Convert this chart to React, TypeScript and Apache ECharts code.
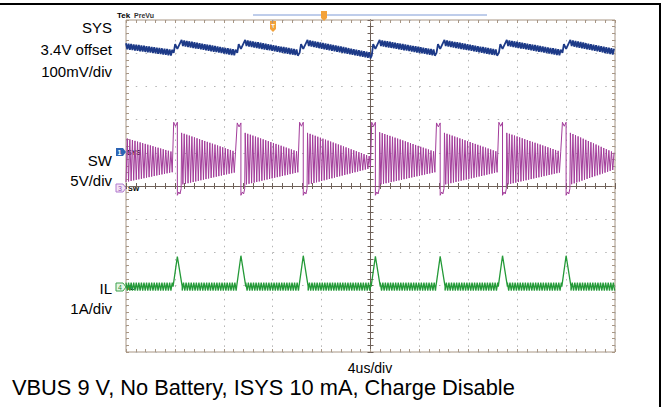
import React, { useEffect, useRef } from "react";
import * as echarts from "echarts";

// ---------- data ----------
// time base: 4 us/div, 10 divisions
const TIME_MIN_US = 0;
const TIME_MAX_US = 40;
const TIME_DIV_US = 4;
// high-side switching events (start of the SW high pulse), us
const EVENT_US = [3.9, 9.1, 14.2, 20.1, 25.4, 30.5, 35.7];
// period of the ringing / ripple after each pulse, us
const RING_PERIOD_US = 0.21;

// SW (5 V/div, reference at centre line)
const SW_PULSE_HIGH_V = [9.6, 9.5, 9.6, 9.6, 9.5, 9.6, 9.6];
const SW_PULSE_WIDTH_US = 0.3;
const SW_RING_DELAY_US = 0.65;
const SW_UNDERSHOOT_V = [-1.4, -0.9, -1.2, -0.4];
// ringing envelope per burst (burst 0 is the tail visible at t = 0)
const SW_RING_START_TOP_V = [7.2, 8.0, 8.0, 8.0, 8.1, 8.0, 8.0, 8.0];
const SW_RING_START_BOT_V = [0.6, 0.2, 0.2, 0.2, 0.2, 0.2, 0.2, 0.2];
const SW_RING_END_TOP_V = [5.1, 5.1, 5.1, 4.4, 5.1, 5.1, 5.1, 5.0];
const SW_RING_END_BOT_V = [2.1, 2.1, 2.1, 2.7, 2.1, 2.1, 2.1, 2.5];

// SYS (3.4 V offset, 100 mV/div, reference 1 div above centre)
const SYS_CYCLE_START_V = [3.721, 3.731, 3.731, 3.731, 3.731, 3.731, 3.731, 3.731];
const SYS_CYCLE_END_V = [3.701, 3.701, 3.701, 3.693, 3.701, 3.701, 3.701, 3.704];
const SYS_STEP_V = [3.727, 3.713];
const SYS_RIPPLE_V = 0.009;

// IL (1 A/div, reference 3 div below centre)
const IL_BASE_A = -0.03;
const IL_RIPPLE_A = 0.12;
const IL_PEAK_A = [0.87, 0.9, 0.9, 0.88, 0.88, 0.9, 0.9];
const IL_SHAPE_US = [-0.05, 0.3, 0.7]; // rise start, peak, back to base (relative to event)

// axis ranges of each channel (10 divisions tall)
const DIV_RANGE = [-5, 5];
const SYS_RANGE_V = [2.8, 3.8];
const SW_RANGE_V = [-25, 25];
const IL_RANGE_A = [-2, 8];

// labels
const LEFT_LABELS = [
  { text: "SYS", y: 27 },
  { text: "3.4V offset", y: 49 },
  { text: "100mV/div", y: 71 },
  { text: "SW", y: 160 },
  { text: "5V/div", y: 180 },
  { text: "IL", y: 288 },
  { text: "1A/div", y: 308 },
];
const TIME_LABEL = "4us/div";
const CAPTION = "VBUS 9 V, No Battery, ISYS 10 mA, Charge Disable";

// ---------- helpers building the trace tables ----------
type Pt = [number, number];

function zigzag(out: Pt[], t0: number, t1: number, hi0: number, lo0: number, hi1: number, lo1: number, startHigh: boolean) {
  const half = RING_PERIOD_US / 2;
  const n = Math.floor((t1 - t0) / half);
  for (let i = 0; i <= n; i++) {
    const t = t0 + i * half;
    const f = (t - t0) / (t1 - t0);
    const hi = hi0 + (hi1 - hi0) * f;
    const lo = lo0 + (lo1 - lo0) * f;
    out.push([t, (i % 2 === 0) === startHigh ? hi : lo]);
  }
}

function buildSW(): Pt[] {
  const out: Pt[] = [];
  const starts = [TIME_MIN_US, ...EVENT_US.map((e) => e + SW_RING_DELAY_US)];
  const ends = [...EVENT_US, TIME_MAX_US];
  for (let k = 0; k < starts.length; k++) {
    zigzag(out, starts[k], ends[k] - 0.05, SW_RING_START_TOP_V[k], SW_RING_START_BOT_V[k], SW_RING_END_TOP_V[k], SW_RING_END_BOT_V[k], k !== 0);
    if (k < EVENT_US.length) {
      const e = EVENT_US[k];
      const w = SW_PULSE_WIDTH_US;
      out.push([e, SW_PULSE_HIGH_V[k]]);
      out.push([e + w / 2, SW_PULSE_HIGH_V[k] - 0.6]);
      out.push([e + w, SW_PULSE_HIGH_V[k]]);
      out.push([e + w, SW_UNDERSHOOT_V[0]]);
      out.push([e + w + 0.12, SW_UNDERSHOOT_V[1]]);
      out.push([e + w + 0.22, SW_UNDERSHOOT_V[2]]);
      out.push([e + SW_RING_DELAY_US - 0.04, SW_UNDERSHOOT_V[3]]);
    }
  }
  return out;
}

function buildSYS(): Pt[] {
  const out: Pt[] = [];
  const starts = [TIME_MIN_US, ...EVENT_US.map((e) => e + SW_RING_DELAY_US)];
  const ends = [...EVENT_US, TIME_MAX_US];
  for (let k = 0; k < starts.length; k++) {
    const c0 = SYS_CYCLE_START_V[k];
    const c1 = SYS_CYCLE_END_V[k];
    zigzag(out, starts[k], ends[k] - 0.05, c0 + SYS_RIPPLE_V, c0 - SYS_RIPPLE_V, c1 + SYS_RIPPLE_V, c1 - SYS_RIPPLE_V, true);
    if (k < EVENT_US.length) {
      const e = EVENT_US[k];
      out.push([e, c1]);
      out.push([e + 0.12, SYS_STEP_V[0]]);
      out.push([e + 0.3, SYS_STEP_V[1]]);
    }
  }
  return out;
}

function buildIL(): Pt[] {
  const out: Pt[] = [];
  const starts = [TIME_MIN_US, ...EVENT_US.map((e) => e + IL_SHAPE_US[2])];
  const ends = [...EVENT_US.map((e) => e + IL_SHAPE_US[0]), TIME_MAX_US];
  const hi = IL_BASE_A + IL_RIPPLE_A;
  const lo = IL_BASE_A - IL_RIPPLE_A;
  for (let k = 0; k < starts.length; k++) {
    zigzag(out, starts[k], ends[k], hi, lo, hi, lo, k % 2 === 0);
    if (k < EVENT_US.length) {
      const e = EVENT_US[k];
      out.push([e + IL_SHAPE_US[0], IL_BASE_A]);
      out.push([e + IL_SHAPE_US[1], IL_PEAK_A[k]]);
      out.push([e + IL_SHAPE_US[2], IL_BASE_A]);
    }
  }
  return out;
}

// ---------- styling ----------
const FONT = "Liberation Sans, Arial, sans-serif";
const BORDER = "#a89684";
const CENTER = "#6e6058";
const GRID_DOT = "#b4b4b4";
const SYS_COLOR = "#1d3a88";
const SW_COLOR = "#a23c9a";
const IL_COLOR = "#249a38";
const MARK_ORANGE = "#f3a23a";

const G = { left: 126, top: 20, width: 489, height: 332 };

export default function App() {
  const ref = useRef<HTMLDivElement>(null);
  useEffect(() => {
    if (!ref.current) return;
    const chart = echarts.init(ref.current, undefined, { renderer: "svg" });

    const tickCommon = (inside: boolean) => ({
      axisLabel: { show: false },
      axisTick: { show: true, inside, length: 3, lineStyle: { color: BORDER, width: 1 } },
      minorTick: { show: true, splitNumber: 5, length: 3, lineStyle: { color: BORDER, width: 1 } },
    });
    const timeAxis = { type: "value", min: TIME_MIN_US, max: TIME_MAX_US, interval: TIME_DIV_US };
    const divAxis = { type: "value", min: DIV_RANGE[0], max: DIV_RANGE[1], interval: 1 };
    const centerTicks = (inside: boolean) => ({
      axisLabel: { show: false },
      axisLine: { show: true, onZero: false, lineStyle: { color: CENTER, width: 1 } },
      axisTick: { show: true, inside, length: 3, lineStyle: { color: CENTER } },
      minorTick: { show: true, splitNumber: 5, length: 3, lineStyle: { color: CENTER } },
      splitLine: { show: false },
    });

    const textStyle = (size: number, extra: any = {}) => ({ fontFamily: FONT, fontSize: size, fill: "#000", ...extra });

    const graphics: any[] = [
      // outer frame
      { type: "line", shape: { x1: 0, y1: 4, x2: 661, y2: 4 }, style: { stroke: "#000", lineWidth: 2 } },
      { type: "line", shape: { x1: 660, y1: 3, x2: 660, y2: 407 }, style: { stroke: "#000", lineWidth: 2 } },
      // Tek header
      { type: "text", x: 117, y: 15, style: textStyle(8, { text: "Tek", fontWeight: "bold", verticalAlign: "middle" }) },
      { type: "text", x: 134, y: 15, style: textStyle(7, { text: "PreVu", fill: "#333", fontWeight: "bold", verticalAlign: "middle" }) },
      { type: "line", shape: { x1: 253, y1: 15, x2: 487, y2: 15 }, style: { stroke: "#7f9bd6", lineWidth: 1 } },
      { type: "polygon", shape: { points: [[321, 11], [327, 11], [327, 18], [324, 21], [321, 18]] }, style: { fill: MARK_ORANGE } },
      { type: "polygon", shape: { points: [[270, 21], [276, 21], [276, 29], [273, 32], [270, 29]] }, style: { fill: MARK_ORANGE } },
      { type: "text", x: 273, y: 26, style: textStyle(6, { text: "T", fill: "#fff", align: "center", verticalAlign: "middle", fontWeight: "bold" }) },
      // channel markers
      { type: "polygon", shape: { points: [[116, 148], [123, 148], [126, 152], [123, 156], [116, 156]] }, style: { fill: "#2c64b4" } },
      { type: "text", x: 119.5, y: 152, style: textStyle(7, { text: "1", fill: "#fff", align: "center", verticalAlign: "middle", fontWeight: "bold" }) },
      { type: "text", x: 127, y: 152, style: textStyle(7, { text: "SYS", fontWeight: "bold", verticalAlign: "middle" }) },
      { type: "polygon", shape: { points: [[116, 184], [123, 184], [126, 188], [123, 192], [116, 192]] }, style: { fill: "#f4e4f4", stroke: "#b07ad0", lineWidth: 1 } },
      { type: "text", x: 120, y: 188, style: textStyle(7, { text: "3", fill: "#9050b8", align: "center", verticalAlign: "middle" }) },
      { type: "text", x: 128, y: 188, style: textStyle(7, { text: "SW", fontWeight: "bold", verticalAlign: "middle" }) },
      { type: "polygon", shape: { points: [[116, 283], [123, 283], [126, 287], [123, 291], [116, 291]] }, style: { fill: "#e6f6e6", stroke: "#3aa04a", lineWidth: 1 } },
      { type: "text", x: 120, y: 287, style: textStyle(7, { text: "4", fill: "#2a8a3a", align: "center", verticalAlign: "middle" }) },
      { type: "text", x: 128, y: 287, style: textStyle(7, { text: "IL", fontWeight: "bold", verticalAlign: "middle" }) },
      // labels
      ...LEFT_LABELS.map((l) => ({ type: "text", x: 112, y: l.y, style: textStyle(15, { text: l.text, align: "right", verticalAlign: "middle" }) })),
      { type: "text", x: 370, y: 368, style: textStyle(14, { text: TIME_LABEL, align: "center", verticalAlign: "middle" }) },
      { type: "text", x: 12, y: 387, style: textStyle(21.8, { text: CAPTION, verticalAlign: "middle" }) },
    ];

    chart.setOption({
      animation: false,
      backgroundColor: "#fff",
      grid: { ...G, show: true, borderColor: BORDER, borderWidth: 1, containLabel: false },
      xAxis: [
        { ...timeAxis, position: "bottom", axisLine: { show: false, onZero: false }, ...tickCommon(true),
          splitLine: { show: true, lineStyle: { color: GRID_DOT, width: 1, type: [1.5, 5.14] } } },
        { ...timeAxis, position: "top", axisLine: { show: false, onZero: false }, ...tickCommon(true), splitLine: { show: false } },
        { ...timeAxis, position: "bottom", offset: -G.height / 2, ...centerTicks(true) },
        { ...timeAxis, position: "bottom", offset: -G.height / 2, ...centerTicks(false) },
      ],
      yAxis: [
        { ...divAxis, position: "left", axisLine: { show: false, onZero: false }, ...tickCommon(true),
          splitLine: { show: true, lineStyle: { color: GRID_DOT, width: 1, type: [1.5, 8.28] } } },
        { type: "value", min: SYS_RANGE_V[0], max: SYS_RANGE_V[1], show: false, splitLine: { show: false } },
        { type: "value", min: SW_RANGE_V[0], max: SW_RANGE_V[1], show: false, splitLine: { show: false } },
        { type: "value", min: IL_RANGE_A[0], max: IL_RANGE_A[1], show: false, splitLine: { show: false } },
        { ...divAxis, position: "right", axisLine: { show: false, onZero: false }, ...tickCommon(true), splitLine: { show: false } },
        { ...divAxis, position: "left", offset: -G.width / 2, ...centerTicks(true) },
        { ...divAxis, position: "left", offset: -G.width / 2, ...centerTicks(false) },
      ],
      series: [
        { name: "SW", type: "line", xAxisIndex: 0, yAxisIndex: 2, data: buildSW(), showSymbol: false, symbol: "none",
          lineStyle: { color: SW_COLOR, width: 1 }, z: 3 },
        { name: "SYS", type: "line", xAxisIndex: 0, yAxisIndex: 1, data: buildSYS(), showSymbol: false, symbol: "none",
          lineStyle: { color: SYS_COLOR, width: 1.8 }, z: 4 },
        { name: "IL", type: "line", xAxisIndex: 0, yAxisIndex: 3, data: buildIL(), showSymbol: false, symbol: "none",
          lineStyle: { color: IL_COLOR, width: 1.3 }, z: 4 },
      ],
      graphic: graphics,
    });
    return () => chart.dispose();
  }, []);
  return <div ref={ref} style={{ position: "fixed", left: 0, top: 0, width: 668, height: 407, background: "#fff" }} />;
}
